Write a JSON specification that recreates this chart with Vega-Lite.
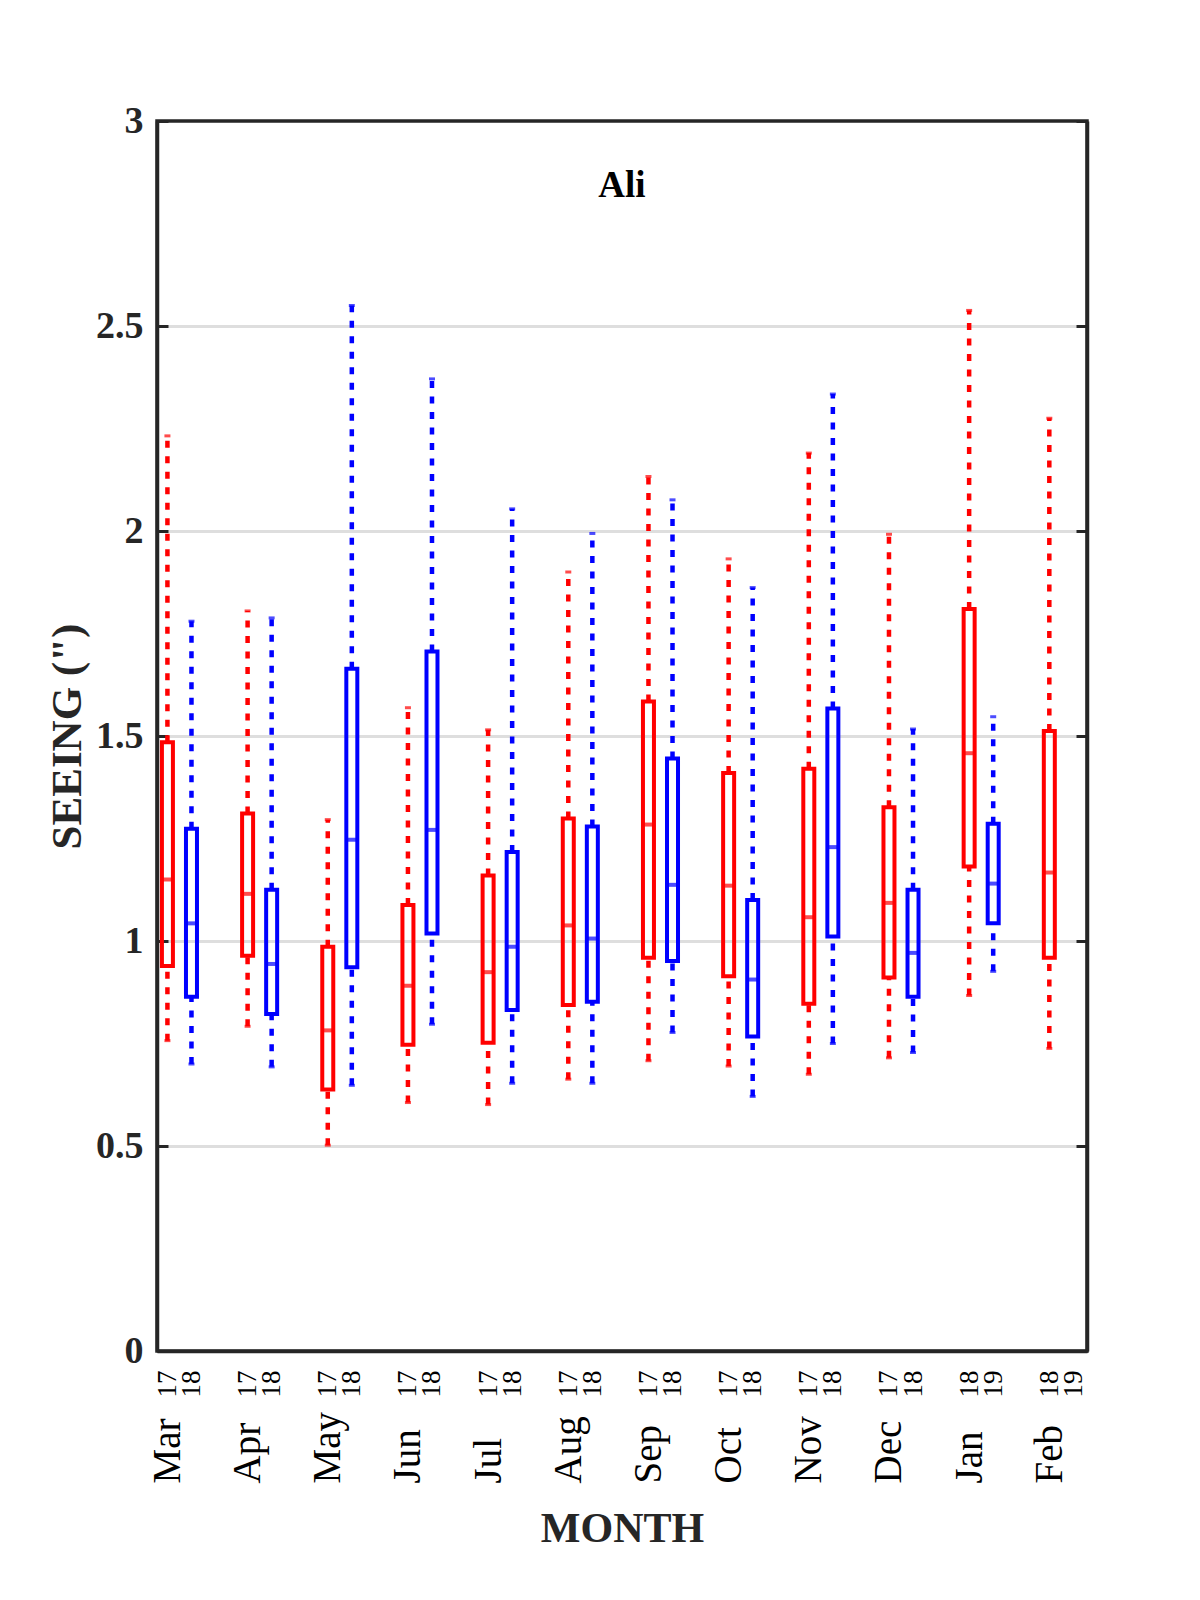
{
  "$schema": "https://vega.github.io/schema/vega-lite/v6.json",
  "autosize": {"type": "none"},
  "padding": {"left": 157, "top": 121, "right": 113, "bottom": 249},
  "width": 930,
  "height": 1230,
  "background": "white",
  "title": {
    "text": "Ali",
    "offset": -103,
    "anchor": "middle",
    "frame": "group",
    "font": "Liberation Serif",
    "fontSize": 37,
    "fontWeight": "bold",
    "color": "#000000"
  },
  "config": {
    "font": "Liberation Serif",
    "view": {"stroke": "#262626", "strokeWidth": 3.5}
  },
  "layer": [
    {
      "data": {
        "values": [
          {"month": "Mar", "grp": "a", "pos": 0.85, "lo": 0.757, "q1": 0.939, "med": 1.150, "q3": 1.485, "hi": 2.232},
          {"month": "Mar", "grp": "b", "pos": 1.15, "lo": 0.700, "q1": 0.864, "med": 1.043, "q3": 1.274, "hi": 1.780},
          {"month": "Apr", "grp": "a", "pos": 1.85, "lo": 0.792, "q1": 0.964, "med": 1.115, "q3": 1.311, "hi": 1.805},
          {"month": "Apr", "grp": "b", "pos": 2.15, "lo": 0.693, "q1": 0.822, "med": 0.944, "q3": 1.125, "hi": 1.788},
          {"month": "May", "grp": "a", "pos": 2.85, "lo": 0.502, "q1": 0.638, "med": 0.782, "q3": 0.986, "hi": 1.296},
          {"month": "May", "grp": "b", "pos": 3.15, "lo": 0.648, "q1": 0.936, "med": 1.247, "q3": 1.664, "hi": 2.550},
          {"month": "Jun", "grp": "a", "pos": 3.85, "lo": 0.606, "q1": 0.747, "med": 0.891, "q3": 1.088, "hi": 1.569},
          {"month": "Jun", "grp": "b", "pos": 4.15, "lo": 0.797, "q1": 1.018, "med": 1.271, "q3": 1.706, "hi": 2.371},
          {"month": "Jul", "grp": "a", "pos": 4.85, "lo": 0.601, "q1": 0.752, "med": 0.924, "q3": 1.160, "hi": 1.515},
          {"month": "Jul", "grp": "b", "pos": 5.15, "lo": 0.653, "q1": 0.832, "med": 0.986, "q3": 1.217, "hi": 2.054},
          {"month": "Aug", "grp": "a", "pos": 5.85, "lo": 0.663, "q1": 0.844, "med": 1.038, "q3": 1.299, "hi": 1.900},
          {"month": "Aug", "grp": "b", "pos": 6.15, "lo": 0.653, "q1": 0.852, "med": 1.006, "q3": 1.279, "hi": 1.994},
          {"month": "Sep", "grp": "a", "pos": 6.85, "lo": 0.708, "q1": 0.959, "med": 1.284, "q3": 1.584, "hi": 2.133},
          {"month": "Sep", "grp": "b", "pos": 7.15, "lo": 0.777, "q1": 0.951, "med": 1.137, "q3": 1.445, "hi": 2.076},
          {"month": "Oct", "grp": "a", "pos": 7.85, "lo": 0.695, "q1": 0.914, "med": 1.135, "q3": 1.410, "hi": 1.932},
          {"month": "Oct", "grp": "b", "pos": 8.15, "lo": 0.621, "q1": 0.767, "med": 0.906, "q3": 1.100, "hi": 1.862},
          {"month": "Nov", "grp": "a", "pos": 8.85, "lo": 0.675, "q1": 0.847, "med": 1.058, "q3": 1.420, "hi": 2.190},
          {"month": "Nov", "grp": "b", "pos": 9.15, "lo": 0.750, "q1": 1.011, "med": 1.229, "q3": 1.567, "hi": 2.334},
          {"month": "Dec", "grp": "a", "pos": 9.85, "lo": 0.715, "q1": 0.911, "med": 1.093, "q3": 1.326, "hi": 1.992},
          {"month": "Dec", "grp": "b", "pos": 10.15, "lo": 0.728, "q1": 0.864, "med": 0.971, "q3": 1.125, "hi": 1.517},
          {"month": "Jan", "grp": "a", "pos": 10.85, "lo": 0.867, "q1": 1.182, "med": 1.458, "q3": 1.810, "hi": 2.538},
          {"month": "Jan", "grp": "b", "pos": 11.15, "lo": 0.926, "q1": 1.043, "med": 1.140, "q3": 1.286, "hi": 1.547},
          {"month": "Feb", "grp": "a", "pos": 11.85, "lo": 0.738, "q1": 0.959, "med": 1.167, "q3": 1.512, "hi": 2.275}
        ]
      },
      "encoding": {
        "x": {
          "field": "pos",
          "type": "quantitative",
          "scale": {"domain": [0.72, 12.32], "nice": false, "zero": false, "padding": 0},
          "axis": {
            "values": [0.85, 1.15, 1.85, 2.15, 2.85, 3.15, 3.85, 4.15, 4.85, 5.15, 5.85, 6.15, 6.85, 7.15, 7.85, 8.15, 8.85, 9.15, 9.85, 10.15, 10.85, 11.15, 11.85, 12.15],
            "labelExpr": "datum.value < 10.5 ? (datum.value % 1 > 0.5 ? '17' : '18') : (datum.value % 1 > 0.5 ? '18' : '19')",
            "labelAngle": -90,
            "labelFontSize": 27,
            "labelColor": "#000000",
            "labelPadding": 19,
            "labelOverlap": false,
            "labelFlush": false,
            "labelBound": false,
            "ticks": false,
            "domain": true,
            "domainColor": "#262626",
            "domainWidth": 3.5,
            "grid": false,
            "title": null
          }
        },
        "color": {
          "field": "grp",
          "type": "nominal",
          "scale": {"domain": ["a", "b"], "range": ["#ff0000", "#0000ff"]},
          "legend": null
        }
      },
      "layer": [
        {
          "mark": {"type": "rule", "strokeWidth": 4.5, "strokeDash": [7, 8.5]},
          "encoding": {
            "y": {
              "field": "lo",
              "type": "quantitative",
              "scale": {"domain": [0, 3], "nice": false, "padding": 0},
              "title": "SEEING (\")",
              "axis": {
                "values": [0, 0.5, 1, 1.5, 2, 2.5, 3],
                "format": "~g",
                "labelFontSize": 38,
                "labelFontWeight": "bold",
                "labelColor": "#262626",
                "labelPadding": 25,
                "tickSize": -11,
                "tickWidth": 3,
                "tickColor": "#262626",
                "domain": true,
                "domainColor": "#262626",
                "domainWidth": 3.5,
                "grid": true,
                "gridColor": {
                  "condition": {"test": "datum.value == 0 || datum.value == 3", "value": "transparent"},
                  "value": "#dedede"
                },
                "gridWidth": 3,
                "titleFontSize": 43,
                "titleFontWeight": "bold",
                "titleColor": "#262626",
                "titlePadding": 6
              }
            },
            "y2": {"field": "q1"}
          }
        },
        {
          "mark": {"type": "rule", "strokeWidth": 4.5, "strokeDash": [7, 8.5]},
          "encoding": {
            "y": {"field": "q3", "type": "quantitative"},
            "y2": {"field": "hi"}
          }
        },
        {
          "mark": {"type": "tick", "orient": "horizontal", "size": 6, "thickness": 3},
          "encoding": {"y": {"field": "lo", "type": "quantitative"}}
        },
        {
          "mark": {"type": "tick", "orient": "horizontal", "size": 6, "thickness": 3},
          "encoding": {"y": {"field": "hi", "type": "quantitative"}}
        },
        {
          "mark": {"type": "bar", "filled": false, "size": 11, "strokeWidth": 4, "fill": null},
          "encoding": {
            "y": {"field": "q1", "type": "quantitative"},
            "y2": {"field": "q3"},
            "stroke": {
              "field": "grp",
              "type": "nominal",
              "scale": {"domain": ["a", "b"], "range": ["#ff0000", "#0000ff"]},
              "legend": null
            }
          }
        },
        {
          "mark": {"type": "tick", "orient": "horizontal", "size": 12, "thickness": 4},
          "encoding": {"y": {"field": "med", "type": "quantitative"}}
        }
      ]
    },
    {
      "data": {
        "values": [
          {"mpos": 0.85, "v": 0}, {"mpos": 1.85, "v": 0}, {"mpos": 2.85, "v": 0},
          {"mpos": 3.85, "v": 0}, {"mpos": 4.85, "v": 0}, {"mpos": 5.85, "v": 0},
          {"mpos": 6.85, "v": 0}, {"mpos": 7.85, "v": 0}, {"mpos": 8.85, "v": 0},
          {"mpos": 9.85, "v": 0}, {"mpos": 10.85, "v": 0}, {"mpos": 11.85, "v": 0}
        ]
      },
      "mark": {"type": "point", "opacity": 0},
      "encoding": {
        "x": {
          "field": "mpos",
          "type": "quantitative",
          "scale": {"domain": [0.72, 12.32], "nice": false, "zero": false, "padding": 0},
          "axis": {
            "orient": "bottom",
            "offset": 132,
            "values": [0.85, 1.85, 2.85, 3.85, 4.85, 5.85, 6.85, 7.85, 8.85, 9.85, 10.85, 11.85],
            "labelExpr": "['Mar','Apr','May','Jun','Jul','Aug','Sep','Oct','Nov','Dec','Jan','Feb'][round(datum.value + 0.15) - 1]",
            "labelAngle": -90,
            "labelAlign": "left",
            "labelBaseline": "middle",
            "labelFontSize": 39,
            "labelColor": "#000000",
            "labelPadding": 0,
            "labelOverlap": false,
            "labelFlush": false,
            "labelBound": false,
            "ticks": false,
            "domain": false,
            "grid": false,
            "title": "MONTH",
            "titleFontSize": 42,
            "titleFontWeight": "bold",
            "titleColor": "#262626",
            "titlePadding": 25
          }
        },
        "y": {
          "field": "v",
          "type": "quantitative",
          "scale": {"domain": [0, 3], "nice": false, "padding": 0},
          "axis": {
            "orient": "right",
            "values": [0, 0.5, 1, 1.5, 2, 2.5, 3],
            "labels": false,
            "tickSize": -11,
            "tickWidth": 3,
            "tickColor": "#262626",
            "domain": true,
            "domainColor": "#262626",
            "domainWidth": 3.5,
            "grid": false,
            "title": null
          }
        }
      }
    }
  ],
  "resolve": {
    "scale": {"x": "independent", "y": "independent", "color": "shared"},
    "axis": {"x": "independent", "y": "independent"}
  }
}
